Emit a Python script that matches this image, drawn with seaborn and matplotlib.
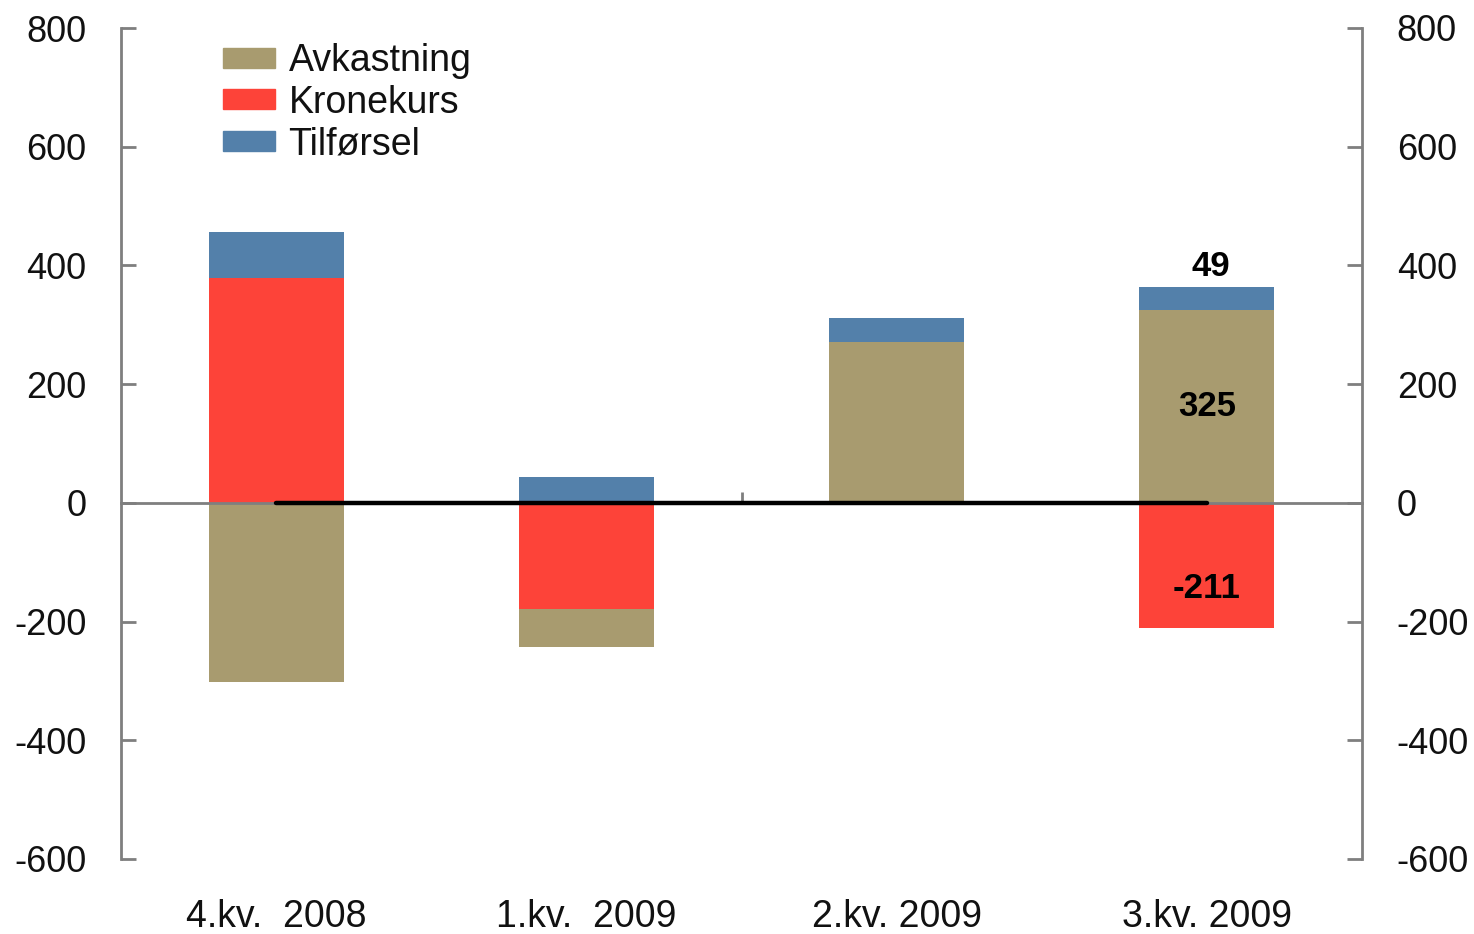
import numpy as np
import pandas as pd
import matplotlib
matplotlib.use("Agg")
import matplotlib.pyplot as plt
from matplotlib.patches import Patch
import seaborn as sns

categories = ["4.kv.  2008", "1.kv.  2009", "2.kv. 2009", "3.kv. 2009"]
kronekurs = [378, -178, 0, -210]
avkastning = [-302, -65, 271, 325]
tilforsel = [78, 43, 40, 38]
zero_line = [0, 0, 0, 0]
label_values = {"Tilførsel": 49, "Avkastning": 325, "Kronekurs": -211}
y_ticks = [-600, -400, -200, 0, 200, 400, 600, 800]

C_AVK = "#A89B6F"
C_KRO = "#FD4339"
C_TIL = "#5380AA"
GREY = "#7F7F7F"
TXT = "#111111"

sns.set_theme(style="white")
plt.rcParams["font.family"] = ["Liberation Sans", "DejaVu Sans"]
plt.rcParams["axes.unicode_minus"] = False

W, H, DPI = 14.74, 9.34, 100
fig = plt.figure(figsize=(W, H), dpi=DPI)
ax = fig.add_axes([121 / 1474, 1 - 859 / 934, (1362 - 121) / 1474, (859 - 28) / 934])

order = [("Kronekurs", kronekurs, C_KRO), ("Avkastning", avkastning, C_AVK), ("Tilførsel", tilforsel, C_TIL)]
pos_base = np.zeros(len(categories))
neg_base = np.zeros(len(categories))
bottoms = {}
for name, vals, col in order:
    v = np.array(vals, dtype=float)
    b = np.where(v >= 0, pos_base, neg_base)
    bottoms[name] = b
    df = pd.DataFrame({"cat": categories, "val": v})
    sns.barplot(data=df, x="cat", y="val", bottom=b, color=col, width=0.435,
                saturation=1, ax=ax, linewidth=0, zorder=1)
    pos_base = np.where(v >= 0, pos_base + v, pos_base)
    neg_base = np.where(v < 0, neg_base + v, neg_base)

# black line series
sns.lineplot(x=np.arange(len(categories)), y=zero_line, color="black", lw=3.2,
             ax=ax, zorder=4, solid_capstyle="round")

ymin, ymax = -600, 800
ax.set_ylim(ymin, ymax)
ax.set_xlim(-0.5, len(categories) - 0.5)
ax.set_yticks(y_ticks)
ax.set_xlabel("")
ax.set_ylabel("")

ax.spines["top"].set_visible(False)
ax.spines["right"].set_visible(False)
for s in ["left", "bottom"]:
    ax.spines[s].set_color(GREY)
    ax.spines[s].set_linewidth(2)
ax.spines["bottom"].set_position(("data", 0))
ax.spines["bottom"].set_zorder(3)

# x tick labels below plot
ax_h_px = (859 - 28)
pad_pt = (ax_h_px * (0 - ymin) / (ymax - ymin) + 40) / DPI * 72
ax.set_xticks(range(len(categories)))
ax.set_xticklabels(categories)
ax.tick_params(axis="x", which="major", length=0, pad=pad_pt, labelsize=27, colors=TXT)
ax.set_xticks([1.5], minor=True)
ax.tick_params(axis="x", which="minor", direction="in", length=8, width=2, color=GREY, top=False, bottom=True)
ax.tick_params(axis="y", direction="in", length=11, width=2, color=GREY, pad=25, labelsize=26, labelcolor=TXT, left=True)

ax2 = ax.twinx()
ax2.set_ylim(ymin, ymax)
ax2.set_yticks(y_ticks)
for s in ["top", "left", "bottom"]:
    ax2.spines[s].set_visible(False)
ax2.spines["right"].set_color(GREY)
ax2.spines["right"].set_linewidth(2)
ax2.tick_params(axis="y", direction="in", length=11, width=2, color=GREY, pad=25, labelsize=26, labelcolor=TXT, right=True)
ax2.grid(False)
ax.grid(False)

# annotations (last category)
i = len(categories) - 1
top = bottoms["Tilførsel"][i] + tilforsel[i]
ax.annotate(str(label_values["Tilførsel"]), (i, top), xytext=(3, 3), textcoords="offset points",
            ha="center", va="bottom", fontsize=25, fontweight="bold", color="black")
ax.annotate(str(label_values["Avkastning"]), (i, avkastning[i] / 2), ha="center", va="center",
            fontsize=25, fontweight="bold", color="black")
ax.annotate(str(label_values["Kronekurs"]), (i, kronekurs[i] * 0.69), ha="center", va="center",
            fontsize=25, fontweight="bold", color="black")

handles = [Patch(color=C_AVK, label="Avkastning"), Patch(color=C_KRO, label="Kronekurs"),
           Patch(color=C_TIL, label="Tilførsel")]
leg = ax.legend(handles=handles, loc="upper left", bbox_to_anchor=(0.07, 1.0), frameon=False,
                fontsize=27, handlelength=1.4, handleheight=0.45, handletextpad=0.35,
                labelspacing=0.15, borderaxespad=0)
for t in leg.get_texts():
    t.set_color(TXT)

fig.savefig("out.png", dpi=DPI)
